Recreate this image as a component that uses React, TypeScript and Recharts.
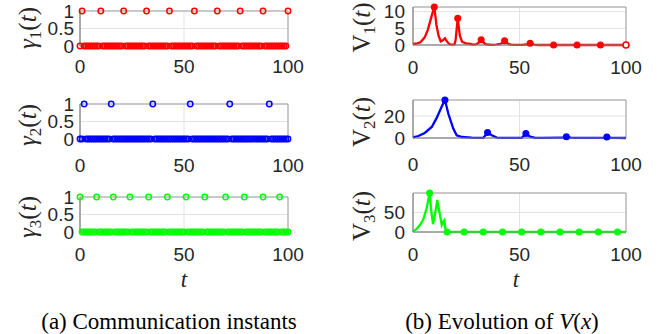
import React from "react";
import {
  CartesianGrid,
  ComposedChart,
  Line,
  ReferenceArea,
  Scatter,
  XAxis,
  YAxis,
} from "recharts";

const timeTicks = [0, 50, 100];
const gammaTicks = [0, 0.5, 1];

// communication flags, one char per step t = 0..100
const gamma1Flags =
  "0100000000" + "1000000000" + "0100000000" + "0010000000" + "0001000000" +
  "0000010000" + "0000001000" + "0000000100" + "0000000010" + "0000000000" + "1";
const gamma2Flags =
  "0010000000" + "0000010000" + "0000000000" + "0000010000" + "0000000000" +
  "0001000000" + "0000000000" + "0010000000" + "0000000000" + "0100000000" + "0";
const gamma3Flags =
  "1000000010" + "0000001000" + "0000100000" + "0001000000" + "0010000000" +
  "0100000000" + "1000000000" + "1000000001" + "0000000010" + "0000001000" + "0";

const v1Time = [0, 2, 3.5, 5.5, 7, 8.8, 10, 11, 12, 13, 14, 15, 16, 17, 18, 19.5, 20, 21, 22, 23, 24, 25, 26, 27, 28, 29, 30, 31, 32, 33, 34, 35, 37, 39, 41, 42, 43, 44, 45, 46, 48, 51, 53, 54, 55, 56, 57, 59, 100];
const v1Value = [0.3, 0.5, 0.8, 2.3, 4.6, 8.8, 11.4, 6, 2.8, 1.1, 1.4, 2, 1, 0.3, 0.1, 0.2, 1.5, 8, 2.8, 1, 0.7, 0.5, 0.4, 0.3, 0.15, 0.1, 0.3, 0.8, 1.6, 0.8, 0.3, 0.15, 0.05, 0.1, 0.3, 0.7, 1.3, 0.7, 0.3, 0.1, 0.05, 0.05, 0.15, 0.3, 0.5, 0.25, 0.1, 0, 0];
const v1MarkTime = [10, 21, 32, 43, 55, 66, 77, 88];
const v1MarkValue = [11.4, 8, 1.6, 1.3, 0.5, 0, 0, 0];
const v1OpenTime = [100];
const v1OpenValue = [0];

const v2Time = [0, 2.5, 5.5, 8.8, 11, 13.5, 15, 16.6, 18.9, 20.5, 23, 27.5, 33, 34, 35, 37, 39.3, 42, 51, 52.2, 53, 55, 57.4, 60, 71, 72, 74, 76, 90, 91, 93, 95, 100];
const v2Value = [0.6, 1.8, 4.6, 10, 17.8, 28.6, 34.5, 22, 8.6, 2.5, 0.9, 0.3, 0.05, 2.5, 4.9, 2.5, 0.4, 0.1, 0.05, 2.5, 4, 1.2, 0.2, 0.05, 0.3, 1.2, 0.3, 0.05, 0.2, 1, 0.2, 0.05, 0];
const v2MarkTime = [15, 35, 53, 72, 91];
const v2MarkValue = [34.5, 4.9, 4, 1.2, 1];

const v3Time = [0, 1.7, 3.3, 4.9, 6.4, 7.8, 8.6, 9.4, 10.3, 11.4, 12.4, 13.5, 14.3, 14.7, 15.2, 16, 100];
const v3Value = [1, 8, 18, 33, 61, 100, 52, 20, 44, 82, 52, 18, 27, 30, 9, 0, 0];
const v3MarkTime = [7.8, 16, 24, 33, 42, 51, 60, 69, 78, 87, 96];
const v3MarkValue = [100, 0, 0, 0, 0, 0, 0, 0, 0, 0, 0];

const RED = "#ff0000";
const BLUE = "#0000ff";
const GREEN = "#00ff00";
const serif = '"Liberation Serif", "Times New Roman", serif';
const sans = '"Liberation Sans", Arial, sans-serif';
const ink = "#262626";

const fromFlags = (flags: string) =>
  flags.split("").map((c, i) => ({ t: i, v: Number(c) }));
const zip = (ts: number[], vs: number[]) => ts.map((t, i) => ({ t, v: vs[i] }));

const hollow = (color: string) => (p: any) =>
  <circle cx={p.cx} cy={p.cy} r={2.7} fill="none" stroke={color} strokeWidth={1.5} />;
const filled = (color: string) => (p: any) =>
  <circle cx={p.cx} cy={p.cy} r={3.5} fill={color} stroke="none" />;
const open = (color: string) => (p: any) =>
  <circle cx={p.cx} cy={p.cy} r={3} fill="#fff" stroke={color} strokeWidth={1.6} />;

interface PanelProps {
  left: number;
  top: number;
  width: number;
  height: number;
  yMax: number;
  yTicks: number[];
  tickGap: number;
  yTickGap: number;
  labelX: number;
  labelY: number;
  symbol: string;
  italicSymbol: boolean;
  sub: string;
  showT?: boolean;
  tX?: number;
  children: React.ReactNode;
}

const PAD_L = 80;
const PAD_T = 10;

function Panel(props: PanelProps) {
  const { left, top, width, height, yMax, yTicks, tickGap, yTickGap } = props;
  const ox = left - PAD_L;
  const oy = top - PAD_T;
  const lx = props.labelX - ox;
  const ly = props.labelY - oy;
  const yLabel = () => (
    <text
      x={lx}
      y={ly}
      transform={`rotate(-90, ${lx}, ${ly})`}
      textAnchor="middle"
      fontFamily={serif}
      fontSize={25}
      fill={ink}
    >
      <tspan fontStyle={props.italicSymbol ? "italic" : "normal"}>{props.symbol}</tspan>
      <tspan fontSize={17} dy={5}>{props.sub}</tspan>
      <tspan dy={-5}>(</tspan>
      <tspan fontStyle="italic">t</tspan>
      <tspan>)</tspan>
    </text>
  );
  const tLabel = () =>
    props.showT ? (
      <text x={(props.tX ?? 0) - ox} y={287 - oy} textAnchor="middle" fontFamily={serif} fontStyle="italic" fontSize={23} fill={ink}>
        t
      </text>
    ) : null;
  return (
    <div style={{ position: "absolute", left: ox, top: oy }}>
      <ComposedChart
        width={PAD_L + width + 24}
        height={PAD_T + height + 64}
        margin={{ top: PAD_T, right: 24, bottom: 0, left: 0 }}
      >
        <CartesianGrid stroke="#e3e3e3" />
        <XAxis
          type="number"
          dataKey="t"
          domain={[0, 100]}
          ticks={timeTicks}
          interval={0}
          height={64}
          tickLine={false}
          tickSize={0}
          tickMargin={tickGap}
          axisLine={{ stroke: "#8a8a8a" }}
          tick={{ fontSize: 19, fontFamily: sans, fill: ink }}
          label={tLabel}
        />
        <YAxis
          type="number"
          domain={[0, yMax]}
          ticks={yTicks}
          interval={0}
          width={PAD_L}
          tickLine={false}
          tickSize={0}
          tickMargin={yTickGap}
          axisLine={{ stroke: "#8a8a8a" }}
          tick={{ fontSize: 19, fontFamily: sans, fill: ink }}
          label={yLabel}
        />
        <ReferenceArea x1={0} x2={100} y1={0} y2={yMax} fill="none" stroke="#a0a0a0" ifOverflow="visible" />
        {props.children}
      </ComposedChart>
    </div>
  );
}

export default function App() {
  return (
    <div style={{ position: "absolute", left: 0, top: 0, width: 666, height: 334, background: "#fff", overflow: "hidden" }}>
      <Panel left={80} top={11} width={208} height={35} yMax={1} yTicks={gammaTicks} tickGap={14} yTickGap={6}
        labelX={36} labelY={28} symbol="γ" italicSymbol sub="1">
        <Scatter data={fromFlags(gamma1Flags)} dataKey="v" shape={hollow(RED)} isAnimationActive={false} />
      </Panel>
      <Panel left={80} top={104} width={208} height={35} yMax={1} yTicks={gammaTicks} tickGap={20} yTickGap={6}
        labelX={36} labelY={125} symbol="γ" italicSymbol sub="2">
        <Scatter data={fromFlags(gamma2Flags)} dataKey="v" shape={hollow(BLUE)} isAnimationActive={false} />
      </Panel>
      <Panel left={80} top={197} width={208} height={35} yMax={1} yTicks={gammaTicks} tickGap={16} yTickGap={6}
        labelX={36} labelY={217} symbol="γ" italicSymbol sub="3" showT tX={184}>
        <Scatter data={fromFlags(gamma3Flags)} dataKey="v" shape={hollow(GREEN)} isAnimationActive={false} />
      </Panel>

      <Panel left={413} top={7} width={213} height={38} yMax={11.4} yTicks={[0, 5, 10]} tickGap={16} yTickGap={8}
        labelX={370} labelY={27.5} symbol="V" italicSymbol={false} sub="1">
        <Line data={zip(v1Time, v1Value)} dataKey="v" type="linear" stroke={RED} strokeWidth={2.3} dot={false} isAnimationActive={false} />
        <Scatter data={zip(v1MarkTime, v1MarkValue)} dataKey="v" shape={filled(RED)} isAnimationActive={false} />
        <Scatter data={zip(v1OpenTime, v1OpenValue)} dataKey="v" shape={open(RED)} isAnimationActive={false} />
      </Panel>
      <Panel left={413} top={100} width={213} height={38} yMax={34.5} yTicks={[0, 20]} tickGap={20} yTickGap={8}
        labelX={370} labelY={122} symbol="V" italicSymbol={false} sub="2">
        <Line data={zip(v2Time, v2Value)} dataKey="v" type="linear" stroke={BLUE} strokeWidth={2.3} dot={false} isAnimationActive={false} />
        <Scatter data={zip(v2MarkTime, v2MarkValue)} dataKey="v" shape={filled(BLUE)} isAnimationActive={false} />
      </Panel>
      <Panel left={413} top={193} width={213} height={39} yMax={100} yTicks={[0, 50]} tickGap={16} yTickGap={8}
        labelX={370} labelY={216} symbol="V" italicSymbol={false} sub="3" showT tX={516}>
        <Line data={zip(v3Time, v3Value)} dataKey="v" type="linear" stroke={GREEN} strokeWidth={2.3} dot={false} isAnimationActive={false} />
        <Scatter data={zip(v3MarkTime, v3MarkValue)} dataKey="v" shape={filled(GREEN)} isAnimationActive={false} />
      </Panel>

      <svg width={666} height={334} style={{ position: "absolute", left: 0, top: 0, pointerEvents: "none" }}>
        <text x={169} y={329} textAnchor="middle" fontFamily={serif} fontSize={23} fill="#000">
          (a) Communication instants
        </text>
        <text x={502} y={329} textAnchor="middle" fontFamily={serif} fontSize={23} fill="#000">
          (b) Evolution of <tspan fontStyle="italic">V</tspan>(<tspan fontStyle="italic">x</tspan>)
        </text>
      </svg>
    </div>
  );
}
